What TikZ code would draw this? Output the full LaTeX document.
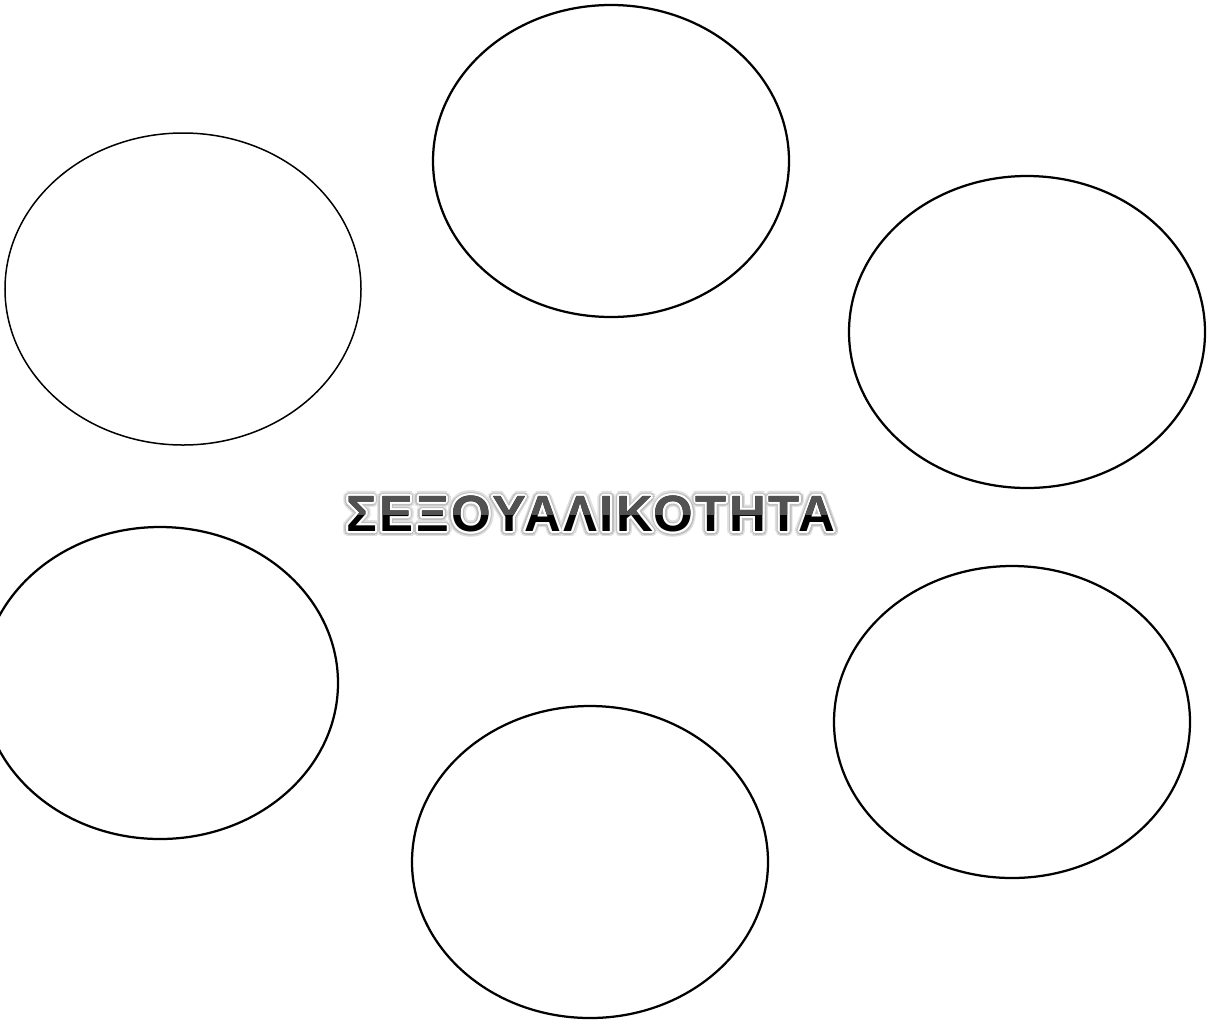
\documentclass[tikz,border=0pt]{standalone}
\usepackage{fontspec}
\setmainfont{Liberation Sans}
\usetikzlibrary{shapes.geometric}

\tikzset{
  bubble/.style={ellipse, draw=black, line width=0.45mm, inner sep=0pt,
    minimum width=71.2mm, minimum height=62.4mm},
  titletext/.style={font=\fontsize{29}{29}\selectfont\bfseries\addfontfeature{LetterSpace=5},
    inner sep=0pt},
}

\begin{document}
\begin{tikzpicture}[x=0.2mm,y=-0.2mm]
  \useasboundingbox (0,0) rectangle (1213,1020);
  \def\titlestr{ΣΕΞΟΥΑΛΙΚΟΤΗΤΑ}

  % --- EMPTY BUBBLES ---
  \node[bubble, line width=0.3mm] (topleft) at (183,289) {};
  \node[bubble] (top)      at (611,161)  {};
  \node[bubble] (topright) at (1027,332) {};
  \node[bubble] (botleft)  at (160,683)  {};
  \node[bubble] (bottom)   at (590,862)  {};
  \node[bubble] (botright) at (1012,722) {};

  % --- TITLE: soft glow, white rim, black letters, gloss on top half ---
  \foreach \a [count=\i] in {0,22.5,...,337.5}
    \node[titletext, text=gray!25, shift={(\a:5)}] (glowa\i) at (591,514) {\titlestr};
  \foreach \a [count=\i] in {0,22.5,...,337.5}
    \node[titletext, text=gray!50, shift={(\a:3.5)}] (glowb\i) at (591,514) {\titlestr};
  \foreach \a [count=\i] in {0,22.5,...,337.5}
    \node[titletext, text=white, shift={(\a:2)}] (rim\i) at (591,514) {\titlestr};
  \node[titletext, text=black] (title) at (591,514) {\titlestr};
  \begin{scope}
    \clip (300,470) rectangle (900,514);
    \node[titletext, text=black!68] (gloss) at (591,514) {\titlestr};
  \end{scope}
\end{tikzpicture}
\end{document}
